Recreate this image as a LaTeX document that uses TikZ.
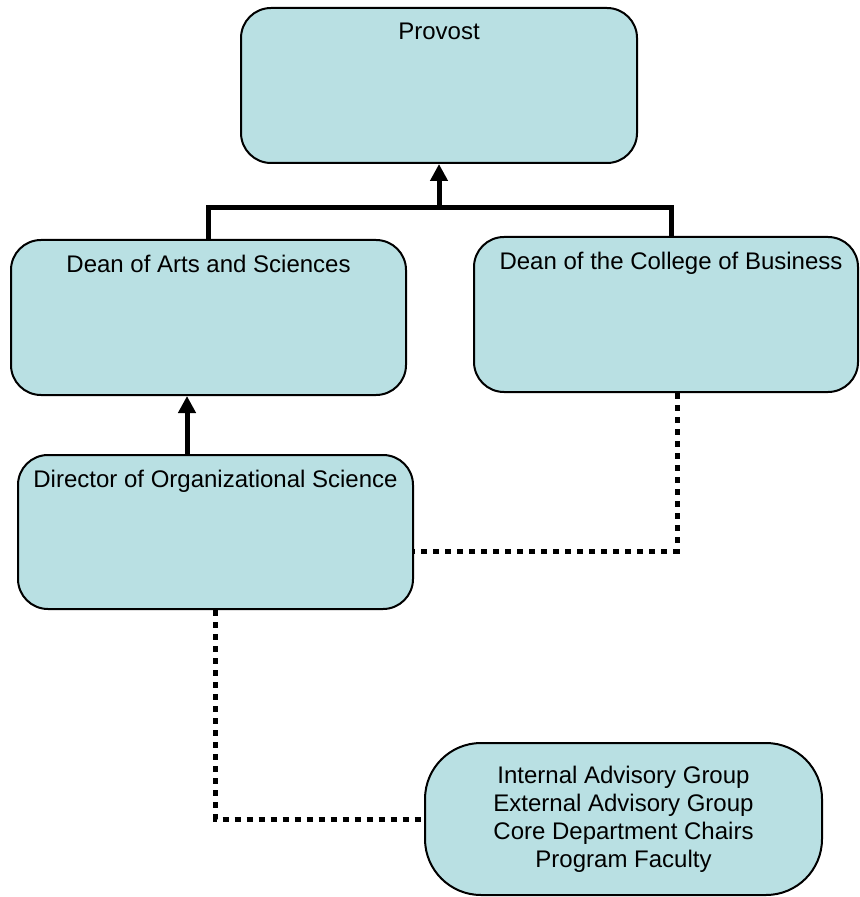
\documentclass[tikz,border=0pt]{standalone}
\usepackage{fontspec}
\setmainfont{Liberation Sans}
\usetikzlibrary{positioning,arrows.meta}
\definecolor{boxfill}{RGB}{185,224,227}

\begin{document}
\begin{tikzpicture}[x=0.5pt,y=-0.5pt,
  every node/.style={font=\fontsize{12}{14}\selectfont},
  office/.style={rectangle,rounded corners=15pt,draw,line width=1pt,fill=boxfill,inner sep=0pt,minimum width=#1,minimum height=77.5pt},
  heading/.style={inner sep=0pt,below=8pt of #1.north},
  solidlink/.style={line width=2.5pt},
  reportlink/.style={solidlink,-{Triangle[length=8.5pt,width=8.5pt]}},
  dotlink/.style={line width=2.5pt,dash pattern=on 3pt off 3pt},
]
\useasboundingbox (0,0) rectangle (859,897);

\node (provost) [office=198pt] at (439,85.5) {};
\node (deanAS) [office=197.5pt] at (208.5,317.5) {};
\node (deanCB) [office=192pt] at (666,314.5) {};
\node (director) [office=197.5pt,minimum height=77pt] at (215.5,532) {};
\node (group) [office=198.5pt,minimum height=76pt,rounded corners=28pt,align=center] at (623.5,819) {Internal Advisory Group\\External Advisory Group\\Core Department Chairs\\Program Faculty};

\node (provostT) [heading=provost] {Provost};
\node (deanAST) [heading=deanAS] {Dean of Arts and Sciences};
\node (deanCBT) [heading=deanCB,xshift=2.5pt] {Dean of the College of Business};
\node (directorT) [heading=director] {Director of Organizational Science};

% reporting lines
\coordinate (bar) at (provost.south |- 0,208);
\draw[solidlink] (deanAS.north) |- (bar) -| ([xshift=2.5pt]deanCB.north);
\draw[reportlink] (bar) -- (provost.south);
\draw[reportlink] ([xshift=-14.25pt]director.north) -- ([xshift=-14.25pt]director.north |- deanAS.south);

% dotted lines
\draw[dotlink] ([xshift=5.5pt]deanCB.south) |- ([yshift=-9.5pt]director.east);
\draw[dotlink] (director.south) |- (group.west);
\end{tikzpicture}
\end{document}
